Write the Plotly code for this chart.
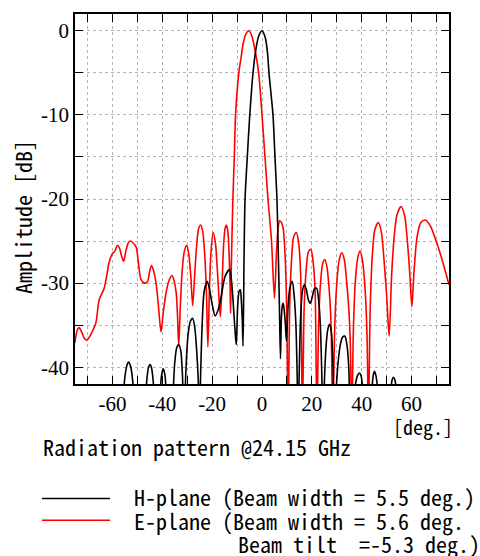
import plotly.graph_objects as go

# E-plane (red) pattern: angle [deg], amplitude [dB]
e_deg = [-75, -74.2, -73.4, -72.2, -71.2, -70.3, -69.2, -67.8, -66.6, -65.3, -63.3, -62.2, -61.3,
         -60.0, -59.0, -58.0, -57.2, -56.3, -55.5, -54.6, -53.6, -52.8, -51.8, -50.5, -49.6,
         -48.5, -47.2, -45.9, -45.0, -44.3, -43.6, -42.5, -41.6, -40.5, -39.6, -38.5, -37.3,
         -36.1, -35.2, -34.4, -33.9, -33.4, -32.8, -32.0, -31.2, -30.2, -29.4, -28.6, -27.8,
         -27.0, -26.2, -25.4, -24.6, -23.8, -23.0, -22.3, -21.7, -21.1, -20.5, -19.6, -18.7,
         -18.0, -17.3, -16.7, -16.0, -15.4, -14.8, -14.3, -13.7, -13.2, -12.8, -12.6, -12.3,
         -11.7, -11.1, -10.6, -9.3, -8.3, -7.6, -6.5, -5.35, -4.2, -3.4, -2.6, -1.3,
         0.0, 1.2, 2.4, 3.8, 5.0, 5.8, 6.5, 7.1, 7.8, 8.5, 9.3, 9.9, 10.5, 11.1, 11.8, 12.7,
         13.8, 14.8, 15.5, 16.2, 16.9, 17.7, 18.6, 19.6, 20.5, 21.3, 22.0, 22.8, 23.6, 24.4,
         25.2, 26.1, 27.0, 27.7, 28.4, 29.2, 30.0, 31.0, 32.0, 33.0, 34.0, 34.8, 35.4, 36.0,
         36.7, 37.5, 38.4, 39.3, 40.3, 41.3, 42.1, 42.7, 43.4, 44.3, 45.3, 46.7, 47.9, 49.0,
         50.0, 51.0, 52.0, 53.0, 54.2, 55.8, 57.2, 58.3, 59.3, 60.1, 61.0, 62.2, 63.7, 65.5,
         67.5, 70.2, 72.5, 75]
e_db = [-37.1, -35.7, -35.3, -35.9, -36.6, -36.8, -36.4, -35.6, -34.7, -32.0, -30.6, -29.0, -27.5,
        -26.5, -26.2, -25.5, -25.8, -26.8, -27.4, -26.2, -25.2, -25.0, -25.2, -25.7, -27.5,
        -29.6, -30.0, -29.8, -28.5, -27.9, -28.4, -30.0, -32.5, -35.8, -33.5, -31.2, -29.7,
        -29.1, -29.8, -31.2, -33.8, -37.5, -33.0, -28.5, -26.3, -25.5, -26.5, -29.0, -32.7,
        -29.0, -25.5, -23.5, -23.1, -23.8, -26.5, -31.0, -37.6, -31.0, -26.5, -24.0, -25.2,
        -28.0, -31.5, -34.0, -30.0, -25.5, -23.5, -23.1, -23.8, -26.5, -30.5, -33.6, -28.0,
        -20.2, -15.0, -10.0, -5.0, -3.0, -1.6, -0.4, 0.0, -0.5, -1.4, -2.6, -5.1,
        -10.0, -15.0, -20.0, -24.9, -31.8, -26.5, -23.3, -22.6, -22.8, -23.5, -27.0, -33.0, -46.0, -33.0, -27.5, -24.5,
        -24.0, -25.5, -29.0, -46.0, -33.0, -28.5, -26.3, -26.0, -27.5, -31.0, -46.0, -34.0, -29.5, -27.6,
        -27.2, -28.2, -31.0, -35.0, -46.0, -35.0, -30.0, -27.2, -26.4, -27.2, -30.0, -33.0, -37.0, -46.0,
        -35.0, -29.5, -27.0, -26.2, -27.3, -30.5, -36.0, -46.0, -33.0, -26.5, -23.6, -22.8, -24.0, -27.5,
        -31.5, -36.3, -29.0, -24.5, -21.8, -20.9, -22.0, -25.0, -29.0, -32.8, -28.5, -24.5, -22.8, -22.5,
        -23.2, -25.3, -27.5, -30.2]

# H-plane (black) pattern
h_deg = [-75, -65, -57, -55.8, -55.0, -54.2, -53.5, -52.7, -51.9, -51.0, -49, -47.0, -46.2, -45.5,
         -44.9, -44.3, -43.6, -42.8, -42, -41.0, -40.3, -39.6, -38.9, -38.3, -37, -35.8, -35.0,
         -34.2, -33.4, -32.6, -31.9, -31.2, -30.6, -29.7, -28.8, -27.8, -27.0, -26.2, -25.5,
         -25.1, -24.7, -24.0, -23.2, -22.0, -21.0, -20.0, -18.8, -17.6, -16.3, -14.8, -13.0,
         -12.0, -11.3, -10.6, -10.3, -9.8, -9.2, -8.7, -8.3, -7.9, -7.6, -7.2, -6.8, -5.9,
         -4.9, -3.6, -2.6, -1.4, 0.0, 1.3, 2.2, 2.8, 4.4, 5.2, 6.0, 6.5, 7.0, 7.4, 7.8, 8.2,
         8.5, 8.9, 9.4, 9.8, 10.4, 11.2, 12.1, 12.9, 13.6, 14.1, 14.5, 14.9, 15.5, 16.2, 17.0,
         17.8, 18.6, 19.4, 20.2, 21.0, 21.9, 22.7, 23.4, 24.0, 24.5, 25.0, 25.7, 26.4, 27.1,
         27.8, 28.4, 28.9, 29.5, 30.5, 31.5, 32.4, 33.2, 34.0, 34.8, 35.5, 36.5, 37.5, 38.3,
         39.0, 39.7, 40.5, 42.5, 44.0, 44.6, 45.1, 45.7, 46.5, 48, 51.5, 52.2, 52.7, 53.3, 54,
         56, 75]
h_db = [-50, -50, -48, -44, -41.2, -39.8, -39.4, -39.9, -41.5, -45, -50, -45, -41.5, -40.0,
        -39.7, -40.1, -41.8, -46, -50, -44, -41, -40.2, -41, -44, -50, -44, -39.5,
        -37.7, -37.3, -38, -41, -48, -41, -36.3, -34.6, -34.2, -35.2, -38, -42,
        -48, -42, -35, -31, -29.8, -30.8, -32.5, -33.9, -33.2, -31.5, -29.2, -28.4,
        -30.5, -33.5, -36.5, -37.3, -33, -31, -30.8, -32, -34.5, -37.5, -27, -20, -15,
        -10, -5, -2.5, -0.7, 0, -0.8, -2.6, -5, -10, -15, -20, -26, -33, -39.0, -34, -32.6,
        -32.4, -33.2, -35, -36.9, -33, -30.5, -29.8, -31.5, -35, -41, -48, -41, -34, -31, -30.2,
        -30.8, -32, -32.4, -31.6, -30.7, -30.6, -32, -35, -41, -48, -42, -37.5, -35.5, -34.9,
        -35.8, -39, -48, -44, -39.5, -37.2, -36.4, -36.3, -37.2, -40, -48, -45, -42, -41,
        -40.7, -41, -43, -50, -43, -41, -40.5, -41, -43, -50, -43, -41.5, -41.2, -41.5, -43,
        -50, -50]

x_ticks = [-70, -60, -50, -40, -30, -20, -10, 0, 10, 20, 30, 40, 50, 60, 70]
x_labels = ["", "-60", "", "-40", "", "-20", "", "0", "", "20", "", "40", "", "60", ""]
y_ticks = [0, -5, -10, -15, -20, -25, -30, -35, -40]
y_labels = ["0", "", "-10", "", "-20", "", "-30", "", "-40"]

W, H = 480, 556
L, R, T, B = 75, 31, 12, 172
PW, PH = W - L - R, H - T - B

def px(x):
    return (x - L) / PW

def py(y):
    return (H - B - y) / PH

mono = "Noto Sans Mono CJK JP, DejaVu Sans Mono, monospace"
serif = "Liberation Serif, Times New Roman, serif"

fig = go.Figure()
fig.add_trace(go.Scatter(x=e_deg, y=e_db, mode="lines", name="E-plane",
                         line=dict(color="#ff0000", width=1.6, shape="spline", smoothing=0.8)))
fig.add_trace(go.Scatter(x=h_deg, y=h_db, mode="lines", name="H-plane",
                         line=dict(color="#000000", width=1.6, shape="spline", smoothing=0.8)))

axis_common = dict(showline=True, linecolor="black", linewidth=1.5, mirror="ticks",
                   ticks="inside", ticklen=8, tickwidth=1, tickcolor="black",
                   showgrid=True, gridcolor="#b4b4b4", griddash="3px,3px", gridwidth=1,
                   zeroline=False, tickfont=dict(family=serif, size=21, color="black"))

fig.update_xaxes(range=[-75, 75], tickmode="array", tickvals=x_ticks, ticktext=x_labels, **axis_common)
fig.update_yaxes(range=[-42, 2], tickmode="array", tickvals=y_ticks, ticktext=y_labels, **axis_common)

anns = [
    dict(text="Amplitude [dB]", x=px(22), y=py(216), textangle=-90, xanchor="center", yanchor="middle",
         font=dict(family=mono, size=22)),
    dict(text="[deg.]", x=px(392), y=py(427), xanchor="left", yanchor="middle", font=dict(family=mono, size=20)),
    dict(text="Radiation pattern @24.15 GHz", x=px(42), y=py(446), xanchor="left", yanchor="middle",
         font=dict(family=mono, size=22)),
    dict(text="H-plane (Beam width = 5.5 deg.)", x=px(133), y=py(497), xanchor="left", yanchor="middle",
         font=dict(family=mono, size=22)),
    dict(text="E-plane (Beam width = 5.6 deg.", x=px(133), y=py(521), xanchor="left", yanchor="middle",
         font=dict(family=mono, size=22)),
    dict(text="Beam tilt  =-5.3 deg.)", x=px(237), y=py(544), xanchor="left", yanchor="middle",
         font=dict(family=mono, size=22)),
]
for a in anns:
    a.update(xref="paper", yref="paper", showarrow=False, borderpad=0)
    a["font"]["color"] = "black"
    fig.add_annotation(**a)

fig.add_shape(type="line", xref="paper", yref="paper", x0=px(42), x1=px(110), y0=py(499), y1=py(499),
              line=dict(color="black", width=1.5))
fig.add_shape(type="line", xref="paper", yref="paper", x0=px(42), x1=px(110), y0=py(521), y1=py(521),
              line=dict(color="#ff0000", width=1.5))

fig.update_layout(width=W, height=H, margin=dict(l=L, r=R, t=T, b=B), showlegend=False,
                  paper_bgcolor="white", plot_bgcolor="white")
fig.write_html("out.html", config={"displayModeBar": False},
               post_script="document.body.style.margin='0';document.body.style.padding='0';"
                           "document.body.style.overflow='hidden';")
